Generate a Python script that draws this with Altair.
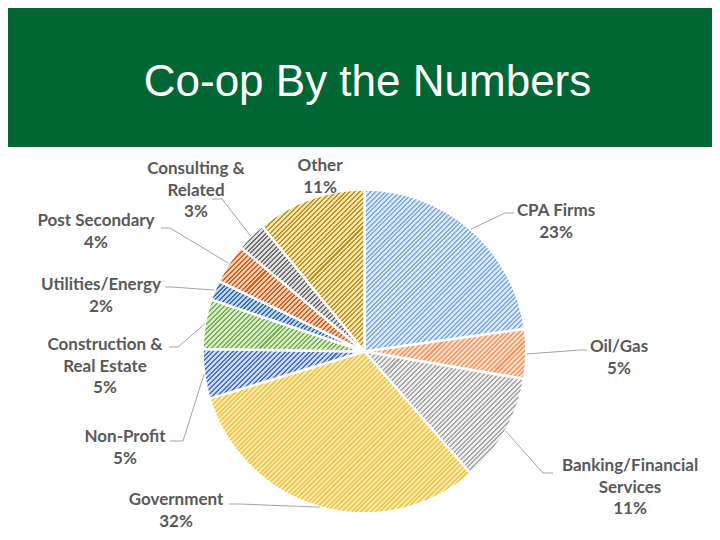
import math
import altair as alt
import pandas as pd

# ---- data ----
categories = ["CPA Firms", "Oil/Gas", "Banking/Financial Services", "Government",
              "Non-Profit", "Construction & Real Estate", "Utilities/Energy",
              "Post Secondary", "Consulting & Related", "Other"]
values = [23, 5, 11, 32, 5, 5, 2, 4, 3, 11]
label_names = ["CPA Firms", "Oil/Gas", "Banking/Financial\nServices", "Government",
               "Non-Profit", "Construction &\nReal Estate", "Utilities/Energy",
               "Post Secondary", "Consulting &\nRelated", "Other"]
# hatch colours: (background, stripe)
hatch_bg = ["#d8e7f8", "#fcdac6", "#ededed", "#feeaa8", "#c9d7f1",
            "#d6eac8", "#b8d2ec", "#f8caa9", "#dedede", "#f6e3a6"]
hatch_fg = ["#86acda", "#f09c68", "#a8a8a8", "#efc448", "#4c74c2",
            "#78b252", "#3c6ea8", "#c4662c", "#6e6e6e", "#b8952e"]
title_text = "Co-op By the Numbers"

# ---- layout (chart pixel coordinates; page = chart + 8) ----
W, H = 704, 524
CX, CY, R = 356.5, 343.5, 162
STRIPE = 3.4  # hatch period, px
# label anchors: (center x, baseline y of first line)
label_pos = [(548, 208), (611, 344), (622, 463), (168, 497), (117, 434),
             (97, 342), (93, 282), (88, 218), (188, 166), (312, 163)]
# leader line elbow / end points (None = no leader)
leader_pts = [[(497, 205), (506, 205)], [(572, 342), (579, 342)],
              [(535, 465), (545, 465)], [(232, 496), (221, 496)],
              [(175, 433), (162, 433)], [(170, 339), (161, 339)],
              [(164, 279), (157, 279)], [(162, 220), (153, 220)],
              [(214, 191), (204, 191)], None]

total = sum(values)


def slice_bbox(a0, a1):
    pts = [(CX, CY)]
    for a in [a0, a1] + [k * math.pi / 2 for k in range(5) if a0 < k * math.pi / 2 < a1]:
        pts.append((CX + R * math.sin(a), CY - R * math.cos(a)))
    xs = [p[0] for p in pts]
    ys = [p[1] for p in pts]
    return max(xs) - min(xs), max(ys) - min(ys)


def hatch(a0, a1, bg, fg):
    w, h = slice_bbox(a0, a1)
    gx = w * (w + h) / (w * w + h * h)
    gy = h * (w + h) / (w * w + h * h)
    n = max(2, int(round((w + h) / (STRIPE * math.sqrt(2)))))
    stops = []
    for k in range(n):
        s = k / n
        m = (k + 0.58) / n
        e = (k + 1) / n
        stops += [{"offset": s, "color": bg}, {"offset": m, "color": bg},
                  {"offset": m, "color": fg}, {"offset": e, "color": fg}]
    return {"gradient": "linear", "x1": 0, "y1": 0, "x2": gx, "y2": gy, "stops": stops}


rows, lead_rows, conds = [], [], []
cum = 0
for i, (c, v) in enumerate(zip(categories, values)):
    a0 = cum / total * 2 * math.pi
    a1 = (cum + v) / total * 2 * math.pi
    mid = (a0 + a1) / 2
    cum += v
    lx, ly = label_pos[i]
    rows.append({"idx": i, "category": c, "value": v,
                 "label": f"{label_names[i]}\n{v}%", "lx": lx, "ly": ly})
    conds.append({"test": f"datum.idx === {i}", "value": hatch(a0, a1, hatch_bg[i], hatch_fg[i])})
    if leader_pts[i] is not None:
        sx = CX + R * math.sin(mid)
        sy = CY - R * math.cos(mid)
        for k, (px, py) in enumerate([(sx, sy)] + leader_pts[i]):
            lead_rows.append({"category": c, "k": k, "px": px, "py": py})

df = pd.DataFrame(rows)
lead = pd.DataFrame(lead_rows)

header = alt.Chart(pd.DataFrame({"a": [0]})).mark_rect(color="#006633").encode(
    x=alt.value(0), x2=alt.value(W), y=alt.value(0), y2=alt.value(139))

title = alt.Chart(pd.DataFrame({"t": [title_text]})).mark_text(
    font="Liberation Sans", fontSize=44, color="white", align="center",
    baseline="alphabetic").encode(x=alt.value(359.5), y=alt.value(88), text="t:N")

pie = alt.Chart(df).mark_arc(radius=R, stroke="white", strokeWidth=2.5).encode(
    theta=alt.Theta("value:Q", stack=True),
    fill={"condition": conds, "value": "#cccccc"},
    order=alt.Order("idx:Q"),
    x=alt.value(CX), y=alt.value(CY))

leaders = alt.Chart(lead).mark_line(color="#a6a6a6", strokeWidth=1).encode(
    x=alt.X("px:Q", scale=None, axis=None),
    y=alt.Y("py:Q", scale=None, axis=None),
    detail="category:N", order="k:Q")

labels = alt.Chart(df).mark_text(
    font="Lato", fontWeight="bold", fontSize=17, color="#595959",
    lineBreak="\n", lineHeight=21.5, align="center", baseline="alphabetic").encode(
    x=alt.X("lx:Q", scale=None, axis=None),
    y=alt.Y("ly:Q", scale=None, axis=None),
    text="label:N")

chart = alt.layer(header, title, pie, leaders, labels).properties(
    width=W, height=H, padding=0).configure_view(stroke=None)

chart.save("out.html", embed_options={"renderer": "svg", "actions": False})
